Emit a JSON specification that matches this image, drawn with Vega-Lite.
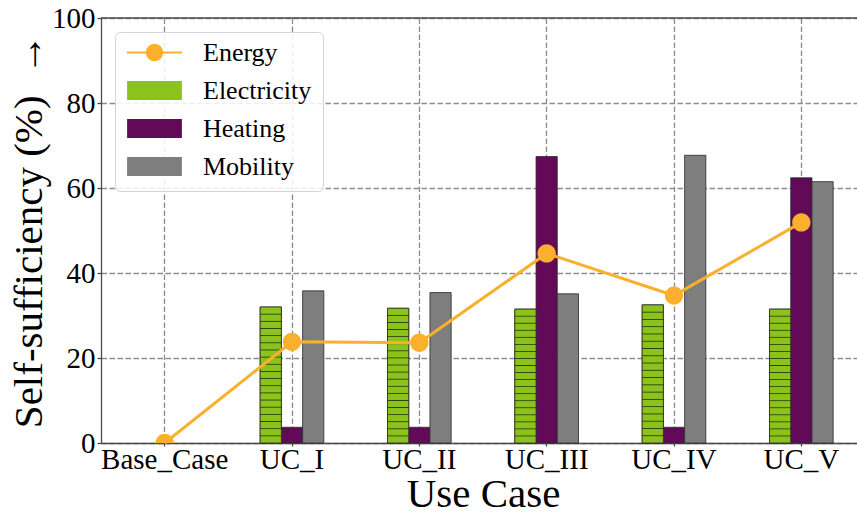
{
  "$schema": "https://vega.github.io/schema/vega-lite/v6.json",
  "width": 756,
  "height": 425,
  "autosize": "none",
  "padding": {"left": 101, "top": 18, "right": 0, "bottom": 70},
  "background": "#ffffff",
  "config": {
    "view": {"stroke": null},
    "font": "Liberation Serif",
    "axis": {
      "labelFont": "Liberation Serif",
      "labelFontSize": 29,
      "labelColor": "#000000",
      "titleFont": "Liberation Serif",
      "titleFontSize": 41,
      "titleFontWeight": "normal",
      "titleColor": "#000000",
      "domainColor": "#4a4a4a",
      "domainWidth": 1.3,
      "tickColor": "#4a4a4a",
      "tickWidth": 1.3,
      "tickSize": 4,
      "grid": true,
      "gridColor": "#8c8c8c",
      "gridDash": [5.5, 2.5],
      "gridWidth": 1.3,
      "gridOpacity": 1
    },
    "axisX": {"labelAngle": 0, "bandPosition": 0.5, "tickSize": 3, "labelPadding": -1, "titlePadding": 0},
    "axisY": {"labelPadding": 2, "titlePadding": 1},
    "legend": {
      "orient": "none",
      "legendX": 14,
      "legendY": 14,
      "direction": "vertical",
      "fillColor": "rgba(255,255,255,0.85)",
      "strokeColor": "#d4d4d4",
      "cornerRadius": 5,
      "padding": 11,
      "labelFont": "Liberation Serif",
      "labelFontSize": 26,
      "labelColor": "#000000",
      "labelOffset": 20,
      "symbolSize": 3025,
      "symbolStrokeWidth": 2,
      "symbolOpacity": 1,
      "clipHeight": 19,
      "rowPadding": 11
    }
  },
  "datasets": {
    "shares": [
      {"case": "UC_I", "series": "Electricity", "value": 32.0},
      {"case": "UC_I", "series": "Heating", "value": 3.7},
      {"case": "UC_I", "series": "Mobility", "value": 35.8},
      {"case": "UC_II", "series": "Electricity", "value": 31.7},
      {"case": "UC_II", "series": "Heating", "value": 3.7},
      {"case": "UC_II", "series": "Mobility", "value": 35.4},
      {"case": "UC_III", "series": "Electricity", "value": 31.5},
      {"case": "UC_III", "series": "Heating", "value": 67.4},
      {"case": "UC_III", "series": "Mobility", "value": 35.1},
      {"case": "UC_IV", "series": "Electricity", "value": 32.5},
      {"case": "UC_IV", "series": "Heating", "value": 3.7},
      {"case": "UC_IV", "series": "Mobility", "value": 67.7},
      {"case": "UC_V", "series": "Electricity", "value": 31.5},
      {"case": "UC_V", "series": "Heating", "value": 62.4},
      {"case": "UC_V", "series": "Mobility", "value": 61.5}
    ],
    "energy": [
      {"case": "Base_Case", "series": "Energy", "value": 0},
      {"case": "UC_I", "series": "Energy", "value": 23.8},
      {"case": "UC_II", "series": "Energy", "value": 23.6},
      {"case": "UC_III", "series": "Energy", "value": 44.6},
      {"case": "UC_IV", "series": "Energy", "value": 34.7},
      {"case": "UC_V", "series": "Energy", "value": 51.9}
    ]
  },
  "layer": [
    {
      "data": {"name": "shares"},
      "mark": {"type": "bar", "stroke": "#2a2a2a", "strokeWidth": 0.8},
      "encoding": {
        "x": {
          "field": "case",
          "type": "nominal",
          "sort": null,
          "title": "Use Case",
          "scale": {
            "domain": ["Base_Case", "UC_I", "UC_II", "UC_III", "UC_IV", "UC_V"],
            "range": [0, 764],
            "paddingInner": 0.5,
            "paddingOuter": 0.25
          }
        },
        "xOffset": {"field": "series", "scale": {"domain": ["Electricity", "Heating", "Mobility"]}},
        "y": {
          "field": "value",
          "type": "quantitative",
          "title": "Self-sufficiency (%)\u00a0 \u2192",
          "scale": {"domain": [0, 100], "nice": false},
          "axis": {"values": [0, 20, 40, 60, 80, 100]}
        },
        "color": {
          "field": "series",
          "type": "nominal",
          "scale": {
            "domain": ["Energy", "Electricity", "Heating", "Mobility"],
            "range": ["#FBB02D", "#8CC21C", "#620A57", "#7E7E7E"]
          },
          "legend": {"title": null}
        }
      }
    },
    {
      "data": {"name": "shares"},
      "transform": [{"filter": "datum.series === 'Electricity'"}],
      "mark": {
        "type": "bar",
        "stroke": "#2a2a2a",
        "strokeWidth": 0.8,
        "fill": {
          "gradient": "linear",
          "x1": 0.5, "y1": 0, "x2": 0.5, "y2": 1,
          "stops": [
            {"offset": 0, "color": "#8CC21C"},
            {"offset": 0.0461, "color": "#8CC21C"}, {"offset": 0.0526, "color": "#2E3F08"}, {"offset": 0.0591, "color": "#8CC21C"},
            {"offset": 0.0987, "color": "#8CC21C"}, {"offset": 0.1053, "color": "#2E3F08"}, {"offset": 0.1118, "color": "#8CC21C"},
            {"offset": 0.1514, "color": "#8CC21C"}, {"offset": 0.1579, "color": "#2E3F08"}, {"offset": 0.1644, "color": "#8CC21C"},
            {"offset": 0.2040, "color": "#8CC21C"}, {"offset": 0.2105, "color": "#2E3F08"}, {"offset": 0.2170, "color": "#8CC21C"},
            {"offset": 0.2567, "color": "#8CC21C"}, {"offset": 0.2632, "color": "#2E3F08"}, {"offset": 0.2697, "color": "#8CC21C"},
            {"offset": 0.3093, "color": "#8CC21C"}, {"offset": 0.3158, "color": "#2E3F08"}, {"offset": 0.3223, "color": "#8CC21C"},
            {"offset": 0.3619, "color": "#8CC21C"}, {"offset": 0.3684, "color": "#2E3F08"}, {"offset": 0.3749, "color": "#8CC21C"},
            {"offset": 0.4146, "color": "#8CC21C"}, {"offset": 0.4211, "color": "#2E3F08"}, {"offset": 0.4276, "color": "#8CC21C"},
            {"offset": 0.4672, "color": "#8CC21C"}, {"offset": 0.4737, "color": "#2E3F08"}, {"offset": 0.4802, "color": "#8CC21C"},
            {"offset": 0.5198, "color": "#8CC21C"}, {"offset": 0.5263, "color": "#2E3F08"}, {"offset": 0.5328, "color": "#8CC21C"},
            {"offset": 0.5725, "color": "#8CC21C"}, {"offset": 0.5789, "color": "#2E3F08"}, {"offset": 0.5854, "color": "#8CC21C"},
            {"offset": 0.6251, "color": "#8CC21C"}, {"offset": 0.6316, "color": "#2E3F08"}, {"offset": 0.6381, "color": "#8CC21C"},
            {"offset": 0.6777, "color": "#8CC21C"}, {"offset": 0.6842, "color": "#2E3F08"}, {"offset": 0.6907, "color": "#8CC21C"},
            {"offset": 0.7304, "color": "#8CC21C"}, {"offset": 0.7368, "color": "#2E3F08"}, {"offset": 0.7433, "color": "#8CC21C"},
            {"offset": 0.7830, "color": "#8CC21C"}, {"offset": 0.7895, "color": "#2E3F08"}, {"offset": 0.7960, "color": "#8CC21C"},
            {"offset": 0.8356, "color": "#8CC21C"}, {"offset": 0.8421, "color": "#2E3F08"}, {"offset": 0.8486, "color": "#8CC21C"},
            {"offset": 0.8882, "color": "#8CC21C"}, {"offset": 0.8947, "color": "#2E3F08"}, {"offset": 0.9012, "color": "#8CC21C"},
            {"offset": 0.9409, "color": "#8CC21C"}, {"offset": 0.9474, "color": "#2E3F08"}, {"offset": 0.9539, "color": "#8CC21C"},
            {"offset": 1, "color": "#8CC21C"}
          ]
        }
      },
      "encoding": {
        "x": {"field": "case", "type": "nominal", "sort": null, "title": "Use Case"},
        "xOffset": {"field": "series", "scale": {"domain": ["Electricity", "Heating", "Mobility"]}},
        "y": {"field": "value", "type": "quantitative", "title": "Self-sufficiency (%)\u00a0 \u2192"}
      }
    },
    {
      "data": {"values": [{"edge": "top"}]},
      "mark": {"type": "rule", "color": "#4a4a4a", "strokeWidth": 1.3},
      "encoding": {"y": {"datum": 100, "type": "quantitative", "title": "Self-sufficiency (%)\u00a0 \u2192"}}
    },
    {
      "data": {"name": "energy"},
      "mark": {"type": "line", "strokeWidth": 3},
      "encoding": {
        "x": {"field": "case", "type": "nominal", "sort": null, "title": "Use Case"},
        "y": {"field": "value", "type": "quantitative", "title": "Self-sufficiency (%)\u00a0 \u2192"},
        "color": {"field": "series", "type": "nominal", "legend": {"title": null}}
      }
    },
    {
      "data": {"name": "energy"},
      "mark": {"type": "point", "filled": true, "size": 4270, "opacity": 1, "clip": true},
      "encoding": {
        "x": {"field": "case", "type": "nominal", "sort": null, "title": "Use Case"},
        "y": {"field": "value", "type": "quantitative", "title": "Self-sufficiency (%)\u00a0 \u2192"},
        "color": {"field": "series", "type": "nominal", "legend": {"title": null}},
        "shape": {
          "field": "series",
          "type": "nominal",
          "scale": {
            "domain": ["Energy", "Electricity", "Heating", "Mobility"],
            "range": [
              "M-1,0H1M0.28,0A0.28,0.28 0 1,1 -0.28,0A0.28,0.28 0 1,1 0.28,0Z",
              "M-0.96,-0.31H0.96V0.31H-0.96Z",
              "M-0.96,-0.31H0.96V0.31H-0.96Z",
              "M-0.96,-0.31H0.96V0.31H-0.96Z"
            ]
          },
          "legend": {"title": null}
        }
      }
    }
  ]
}
